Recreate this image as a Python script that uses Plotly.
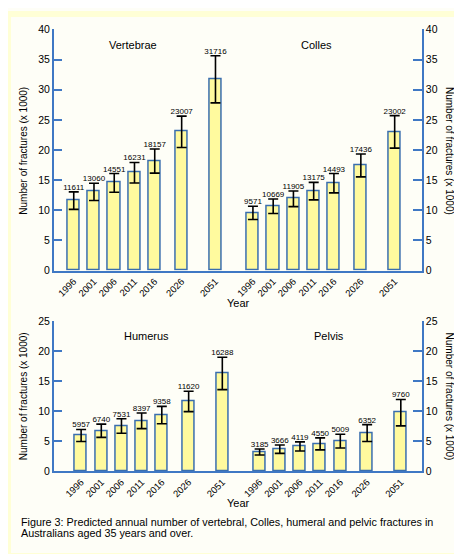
import plotly.graph_objects as go

# Years shown under each group of bars
years = ["1996", "2001", "2006", "2011", "2016", "2026", "2051"]

# Predicted number of fractures per year
vertebrae = [11611, 13060, 14551, 16231, 18157, 23007, 31716]
colles = [9571, 10669, 11905, 13175, 14493, 17436, 23002]
humerus = [5957, 6740, 7531, 8397, 9358, 11620, 16288]
pelvis = [3185, 3666, 4119, 4550, 5009, 6352, 9760]

# Error bar half-lengths (x 1000)
vertebrae_err = [1.45, 1.43, 1.55, 1.7, 2.0, 2.6, 3.9]
colles_err = [1.1, 1.2, 1.3, 1.45, 1.6, 1.9, 2.7]
humerus_err = [1.0, 1.1, 1.2, 1.3, 1.45, 1.7, 2.7]
pelvis_err = [0.5, 0.7, 0.76, 1.0, 1.15, 1.4, 2.2]

# slot of each year along the axis, and offset of the second group
slot = [0, 1, 2, 3, 4, 5.33, 7]
group2 = 8.85

W, H = 462, 554
FONT = "Liberation Sans, Arial, sans-serif"
AXIS = "#3F78C4"
BAR_FILL = "#FFFA9E"
BAR_LINE = "#3A6EAE"


def fx(px):
    return px / W


def fy(py):
    return 1 - py / H


fig = go.Figure()


def add_group(vals, errs, xoff, xa, ya):
    xs = [s + xoff for s in slot]
    ys = [v / 1000 for v in vals]
    fig.add_trace(go.Bar(
        x=xs, y=ys, width=0.6, xaxis=xa, yaxis=ya,
        marker=dict(color=BAR_FILL, line=dict(color=BAR_LINE, width=1.5)),
        error_y=dict(type="data", array=errs, color="black", thickness=1.6, width=5),
        showlegend=False, hoverinfo="skip",
    ))
    fig.add_trace(go.Scatter(
        x=xs, y=[y + e for y, e in zip(ys, errs)], xaxis=xa, yaxis=ya,
        mode="text", text=[str(v) for v in vals], textposition="top center",
        textfont=dict(family=FONT, size=8, color="black"),
        showlegend=False, hoverinfo="skip",
    ))


add_group(vertebrae, vertebrae_err, 0, "x", "y")
add_group(colles, colles_err, group2, "x", "y")
add_group(humerus, humerus_err, 0, "x2", "y3")
add_group(pelvis, pelvis_err, group2, "x2", "y3")

tickvals = slot + [s + group2 for s in slot]
ticktext = years + years

xcommon = dict(
    tickmode="array", tickvals=tickvals, ticktext=ticktext, tickangle=-45,
    showgrid=False, zeroline=False, showline=True, linecolor=AXIS, linewidth=1.5,
    ticks="", tickfont=dict(family=FONT, size=9.5, color="black"),
)
ycommon = dict(
    showgrid=False, zeroline=False, showline=True, linecolor=AXIS, linewidth=1.5,
    ticks="inside", ticklen=9, tickcolor=AXIS, tickwidth=1.5,
    tickfont=dict(family=FONT, size=10.5, color="black"),
)

top_dom = [fy(262.3), fy(15.7)]
bot_dom = [fy(467.3), fy(314)]
xdom = [fx(45.7), fx(414)]

fig.update_layout(
    width=W, height=H,
    margin=dict(l=0, r=0, t=0, b=0),
    paper_bgcolor="#FEFEF7",
    plot_bgcolor="rgba(0,0,0,0)",
    bargap=0,
    xaxis=dict(xcommon, domain=xdom, range=[-0.99, 17.2], anchor="y"),
    yaxis=dict(ycommon, domain=top_dom, range=[0, 40], dtick=5, anchor="x"),
    yaxis2=dict(ycommon, domain=top_dom, range=[0, 40], dtick=5, anchor="x",
                overlaying="y", side="right"),
    xaxis2=dict(xcommon, domain=xdom, range=[-1.36, 16.9], anchor="y3"),
    yaxis3=dict(ycommon, domain=bot_dom, range=[0, 25], dtick=5, anchor="x2"),
    yaxis4=dict(ycommon, domain=bot_dom, range=[0, 25], dtick=5, anchor="x2",
                overlaying="y3", side="right"),
)

# invisible traces so the right-hand axes are drawn
fig.add_trace(go.Scatter(x=[None], y=[None], xaxis="x", yaxis="y2", showlegend=False))
fig.add_trace(go.Scatter(x=[None], y=[None], xaxis="x2", yaxis="y4", showlegend=False))

ann = []


def label(text, x, y, size=11, angle=0, xanchor="center"):
    ann.append(dict(text=text, x=fx(x), y=fy(y), xref="paper", yref="paper",
                    showarrow=False, textangle=angle, xanchor=xanchor, yanchor="middle",
                    font=dict(family=FONT, size=size, color="black")))


ytitle = "Number of fractures (x 1000)"
label("Vertebrae", 125, 32)
label("Colles", 308, 32)
label("Humerus", 138, 329)
label("Pelvis", 321, 329)
label("Year", 230, 295)
label("Year", 230, 500)
label(ytitle, 15.7, 140, size=10, angle=-90)
label(ytitle, 441, 140, size=10, angle=90)
label(ytitle, 15.7, 391, size=10, angle=-90)
label(ytitle, 441, 391, size=10, angle=90)
label("Figure 3: Predicted annual number of vertebral, Colles, humeral and pelvic fractures in",
      11, 519, size=10.8, xanchor="left")
label("Australians aged 35 years and over.", 11, 531, size=10.8, xanchor="left")

fig.update_layout(annotations=ann)

# pale yellow border around the page
fig.add_shape(type="rect", xref="paper", yref="paper", x0=0, y0=0, x1=1, y1=1,
              line=dict(color="#FFFFD6", width=6), layer="below")

fig.write_html("out.html")
